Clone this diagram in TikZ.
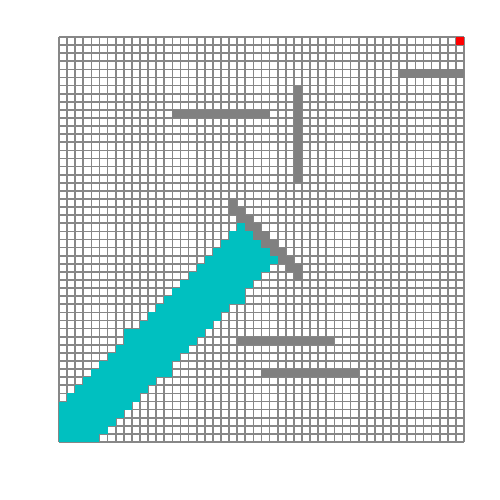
\documentclass[tikz,border=0pt]{standalone}
\definecolor{cellcyan}{RGB}{0,192,192}
\definecolor{obst}{RGB}{128,128,128}
\definecolor{gridc}{RGB}{135,135,135}
\begin{document}
\begin{tikzpicture}[x=0.5pt,y=-0.5pt,
  gridline/.style={draw=gridc,line width=0.85pt},
  obstacle/.style={fill=obst},
  free/.style={fill=cellcyan},
  goal/.style={fill=red}]
\useasboundingbox (0,0) rectangle (500,500);
\fill[white] (0,0) rectangle (500,500);
\begin{scope}[shift={(59,37)},scale=8.1]
  % grid
  \foreach \i in {0,...,50} {
    \draw[gridline] (\i,0) -- (\i,50);
    \draw[gridline] (0,\i) -- (50,\i);
  }
  % cyan band
  \foreach \r/\a/\b in {23/22/22,24/21/23,25/20/24,26/19/25,27/18/26,28/17/25,29/16/24,30/15/23,31/14/22,32/13/22,33/12/20,34/11/19,35/10/18,36/8/17,37/8/16,38/7/15,39/6/14,40/5/13,41/4/13,42/3/11,43/2/10,44/1/9,45/0/8,46/0/7,47/0/6,48/0/5,49/0/4} {
    \fill[free] (\a,\r) rectangle ({\b+1},{\r+1});
  }
  % obstacles
  \fill[obstacle] (42,4) rectangle (50,5);
  \fill[obstacle] (14,9) rectangle (26,10);
  \fill[obstacle] (29,6) rectangle (30,18);
  \fill[obstacle] (22,37) rectangle (34,38);
  \fill[obstacle] (25,41) rectangle (37,42);
  \foreach \r in {20,...,28} {
    \fill[obstacle] ({\r+1},\r) rectangle ({\r+2},{\r+1});
  }
  \foreach \r in {21,...,29} {
    \fill[obstacle] (\r,\r) rectangle ({\r+1},{\r+1});
  }
  % goal
  \fill[goal] (49,0) rectangle (50,1);
\end{scope}
\end{tikzpicture}
\end{document}
